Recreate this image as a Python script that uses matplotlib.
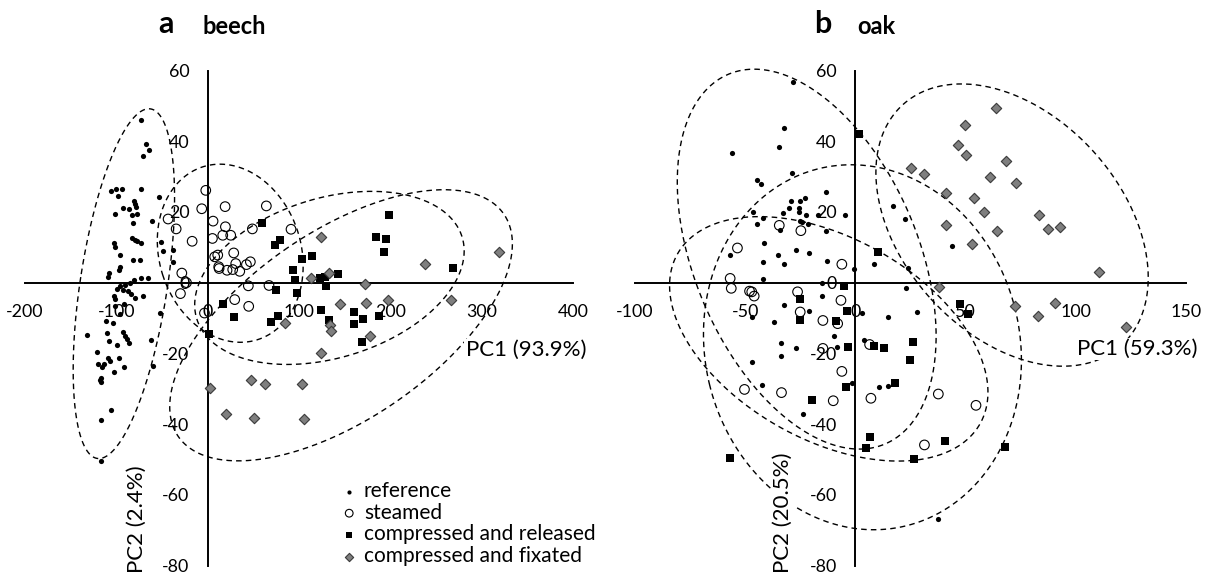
import numpy as np
import matplotlib
matplotlib.use("Agg")
import matplotlib.pyplot as plt

plt.rcParams['font.family'] = ['Lato', 'DejaVu Sans']
plt.rcParams['axes.unicode_minus'] = False

# ---------------- data (PC1, PC2) ----------------
beech_reference = [(-73.6,45.9),(-67.4,39.3),(-64.1,37.6),(-70.7,35.7),(-106.4,25.8),(-100.6,26.6),(-93.6,26.4),(-98.7,24.6),(-73.2,26.6),(-53.6,24.3),(-80.9,23.2),(-79.4,22.3),(-78.3,21.5),(-93.3,21.0),(-86.3,20.7),(-101.3,19.3),(-82.7,19.2),(-76.9,19.3),(-81.6,16.8),(-60.8,17.3),(-82.7,12.5),(-79.4,12.2),(-77.6,11.9),(-73.2,11.3),(-102.4,11.3),(-102.0,10.1),(-96.5,7.9),(-82.0,6.4),(-74.0,6.5),(-51.0,11.6),(-49.5,8.9),(-37.5,9.2),(-37.5,5.9),(-96.5,4.3),(-97.6,3.7),(-108.2,2.6),(-109.7,1.6),(-73.6,1.3),(-65.2,1.3),(-80.9,0.7),(-85.3,-0.1),(-91.1,-0.8),(-96.5,-0.9),(-99.1,-1.7),(-93.3,-2.0),(-87.1,-2.5),(-103.1,-3.9),(-101.6,-4.6),(-84.2,-3.2),(-79.1,-4.3),(-71.4,-3.8),(-101.0,-6.5),(-92.0,-6.0),(-96.0,-9.0),(-111.8,-10.9),(-103.5,-11.5),(-132.6,-14.7),(-110.8,-14.2),(-92.5,-14.0),(-91.1,-15.0),(-88.2,-15.9),(-86.7,-17.2),(-108.2,-16.6),(-99.8,-17.7),(-62.3,-16.2),(-52.5,-8.6),(-121.0,-19.7),(-109.3,-21.3),(-107.1,-22.3),(-97.6,-21.3),(-120.2,-23.1),(-115.5,-23.8),(-113.7,-22.9),(-91.5,-23.8),(-102.4,-25.4),(-59.4,-23.6),(-117.3,-26.9),(-116.6,-28.1),(-118.0,-27.5),(-106.4,-36.1),(-116.6,-38.8),(-117.3,-50.4)]
beech_steamed = [(-2.2,26.1),(-6.6,20.9),(19.0,21.5),(64.1,21.7),(-43.4,18.0),(-34.6,15.2),(5.8,17.4),(19.3,15.8),(16.4,13.4),(25.1,13.4),(48.8,15.2),(91.1,15.1),(-17.1,11.7),(5.1,12.5),(28.4,8.4),(7.6,7.3),(10.9,7.8),(12.0,4.5),(12.4,4.0),(21.1,3.5),(27.3,3.7),(35.0,3.2),(30.6,5.4),(42.3,5.1),(46.6,5.9),(-28.4,2.7),(-23.3,0.0),(-29.9,-3.1),(44.4,-0.9),(67.0,-0.8),(29.5,-4.8),(44.8,-6.7),(-3.6,-8.6)]
beech_released = [(59.4,17.0),(78.7,12.0),(73.9,10.6),(92.9,3.7),(95.8,0.7),(75.0,-2.2),(97.6,-2.9),(16.4,-6.0),(28.4,-9.8),(1.1,-14.5),(69.2,-11.2),(76.5,-9.3),(198.2,19.1),(183.7,12.9),(195.3,12.3),(193.1,8.8),(268.2,4.1),(103.5,6.8),(114.4,7.4),(123.2,1.3),(128.7,1.6),(142.5,2.5),(129.4,-1.0),(124.3,-7.6),(159.6,-8.4),(160.3,-11.7),(169.8,-10.3),(187.0,-9.3),(132.3,-10.7),(168.7,-16.9)]
beech_fixated = [(124.3,12.9),(237.2,5.2),(319.2,8.6),(113.0,1.3),(133.0,2.6),(171.6,-0.5),(145.0,-6.0),(173.5,-5.7),(197.1,-5.0),(266.7,-5.0),(84.9,-11.5),(133.4,-12.0),(134.8,-13.8),(177.1,-15.0),(124.3,-20.0),(2.9,-29.9),(47.7,-27.6),(63.0,-28.8),(103.2,-28.6),(19.7,-37.1),(51.0,-38.2),(105.0,-38.5)]

oak_reference = [(-28.3,56.7),(-32.4,43.8),(-34.5,38.5),(-55.8,36.6),(-28.9,31.1),(-44.4,29.1),(-42.6,27.9),(-13.5,25.7),(-25.3,23.0),(-22.7,23.8),(-29.4,23.0),(-30.3,21.0),(-25.7,21.1),(-25.6,20.1),(-22.3,19.1),(-25.0,17.5),(-24.1,17.2),(-21.4,16.7),(-32.9,19.7),(-41.7,18.3),(-44.8,16.6),(-34.2,14.9),(-17.1,19.2),(-13.2,14.6),(-4.5,19.1),(-46.5,19.9),(-41.5,11.1),(-57.1,7.9),(-35.1,7.8),(-32.4,5.4),(-26.7,9.2),(-20.9,8.5),(-42.1,5.8),(-13.0,6.1),(-41.8,1.1),(-0.8,3.8),(8.6,5.2),(-15.0,-0.2),(-32.4,-6.3),(-15.3,-3.8),(17.1,21.6),(22.7,17.9),(44.1,10.4),(23.8,4.1),(22.9,-1.4),(-46.7,-9.7),(-37.1,-11.1),(-20.9,-8.1),(-9.5,-15.0),(-8.2,-18.2),(-26.7,-18.5),(-33.9,-17.0),(-33.6,-20.8),(-47.0,-22.5),(-42.4,-28.9),(-23.9,-37.2),(-1.5,-28.4),(3.8,-16.1),(3.0,-8.5),(14.9,-9.7),(10.8,-29.6),(14.7,-29.3),(28.0,-8.2),(37.6,-66.9)]
oak_steamed = [(-53.5,9.8),(-34.5,16.2),(-24.7,14.7),(-6.1,5.2),(-56.8,1.2),(-56.3,-1.6),(-48.0,-2.4),(-47.0,-2.6),(-45.9,-3.8),(-26.2,-2.6),(-6.5,-5.0),(-25.0,-8.3),(-14.7,-10.7),(-8.0,-11.6),(-14.7,-18.6),(-6.1,-25.1),(6.5,-17.5),(-50.3,-30.2),(-33.5,-31.1),(-10.0,-33.4),(7.1,-32.7),(37.7,-31.5),(54.8,-34.7),(31.4,-45.9)]
oak_released = [(1.5,42.1),(10.3,8.6),(-5.0,-1.0),(-25.0,-4.5),(-3.8,-7.9),(-25.3,-10.7),(-8.6,-10.9),(-3.5,-18.3),(8.3,-17.8),(13.2,-18.6),(-4.2,-29.5),(18.2,-28.5),(-19.7,-33.3),(6.5,-43.7),(4.9,-46.7),(-56.8,-49.7),(26.2,-16.8),(25.0,-21.8),(40.9,-44.8),(26.8,-50.0),(67.9,-46.4),(47.4,-6.1),(51.2,-9.0)]
oak_fixated = [(63.9,49.5),(49.9,44.5),(46.7,39.0),(50.3,36.0),(68.3,34.4),(25.2,32.5),(31.2,30.8),(61.2,29.8),(73.0,28.1),(41.1,25.3),(53.8,24.0),(58.3,20.1),(83.5,19.0),(87.4,15.2),(93.0,15.8),(41.4,16.3),(64.4,14.6),(52.9,10.8),(110.8,3.0),(37.9,-1.2),(72.3,-6.6),(90.5,-5.7),(83.0,-9.3),(122.7,-12.6)]

series_labels = ["reference", "steamed", "compressed and released", "compressed and fixated"]

# traced outlines of the dashed group ellipses (data units)
beech_outlines = [
    [(-64.5,48.7),(-44.4,43.3),(-37.8,34.8),(-36.4,26.3),(-37.2,16.8),(-42.6,4.4),(-48.1,-7.9),(-53.6,-14.5),(-59,-23),(-73.6,-32.5),(-88.1,-41.1),(-106.3,-47.7),(-117.3,-49.3),(-135.5,-46.8),(-144.6,-40.1),(-145.7,-28.7),(-145.7,-14.5),(-140.2,0),(-130,13.9),(-117.3,26.3),(-102.7,37.6),(-86.3,45.2)],
    [(10.3,33.9),(-22.5,31.0),(-37.2,26.3),(-51.7,16.8),(-53.6,7.3),(-48.1,-0.3),(-29.8,-7.9),(-8.0,-12.7),(10.3,-15.5),(46.7,-15.9),(79.5,-13.0),(96.9,-6.5),(102.4,3.5),(99.1,14.0),(87.1,21.4),(57.6,29.1)],
    [(-21.1,-2.8),(-9.8,-0.3),(6.6,5.4),(28.4,10.1),(57.6,14.9),(83.1,20.6),(101.3,23.9),(163.3,26.7),(210.6,25.3),(250.7,20.6),(272.6,14.9),(278,9.2),(274,3.5),(265.2,-5.0),(235.7,-10.7),(199.7,-15.5),(163.3,-19.3),(126.4,-22.1),(101.3,-23.5),(64.9,-23.0),(35.7,-20.1),(-0.7,-14.5),(-22.5,-5.0)],
    [(-37.5,-26.9),(-40.8,-35.5),(-29.8,-44.0),(-0.3,-48.6),(28.1,-49.7),(101.3,-46.9),(163.3,-41.1),(235.7,-29.7),(287.1,-13.6),(309,-5.9),(320,0.7),(332.7,9.2),(330.8,16.9),(309,24.4),(265.2,27.0),(213.9,25.3),(145,17.7),(97.7,11.1),(64.9,5.4),(43.1,-0.3),(16.1,-5.6),(-8,-12.1),(-29.8,-20.6)],
]
oak_outlines = [
    [(-41.8,60.1),(-58.2,57.3),(-70.5,49.6),(-77.3,41.1),(-80.5,32.6),(-80.9,23.2),(-80.9,13.8),(-78.6,5.3),(-75.0,-2.4),(-62.9,-9.9),(-52.3,-19.4),(-40.1,-28.9),(-31.0,-35.5),(-22.0,-42.1),(-11.4,-47.8),(0,-51.2),(15.9,-47.2),(25,-41.3),(30.5,-33.6),(33.2,-24.2),(35,-13.7),(33.2,-0.4),(28.2,12.7),(21.8,24.1),(15.9,31.7),(10,36.6),(-0.9,45.4),(-17.3,54.5)],
    [(-84.1,-0.4),(-80.9,7.0),(-73.6,12.7),(-58.2,17.5),(-43.2,19.2),(-30.9,18.4),(-17.3,15.5),(-0.9,11.8),(20.5,5.3),(40.5,-4.3),(49.1,-10.0),(53.6,-19.4),(59.1,-28.8),(58.2,-36.4),(52.3,-43.0),(38.6,-48.7),(20.5,-51.2),(-0.9,-49.8),(-17.3,-47.0),(-30.9,-40.1),(-47.7,-33.6),(-65.9,-25.1),(-80.9,-14.6),(-85,-5.2)],
    [(-65.9,4.3),(-55.3,12.8),(-40.1,25.1),(-22.0,30.8),(-0.8,33.2),(20.5,31.7),(43.2,22.3),(61.4,9.9),(72.7,-8.0),(74.2,-19.4),(71.2,-38.4),(61.4,-52.6),(46.2,-63.0),(31.0,-66.8),(5.3,-69.1),(-20.5,-65.8),(-50.8,-49.7),(-64.4,-33.6),(-68.2,-14.6)],
    [(15.9,47.4),(25,51.6),(44.5,55.9),(65.9,53.9),(88.6,47.4),(106.8,38.3),(121.8,26.1),(130.9,12.7),(132.7,-0.4),(126.8,-11.7),(100,-23.7),(70.5,-20.3),(49.5,-14.6),(36.8,-7.2),(31.4,0.5),(21.8,6.2),(13.6,16.1),(10,31.7),(14.5,46.8)],
]

# ---------------- helpers ----------------
def fit_ellipse(x, y):
    D1 = np.vstack([x * x, x * y, y * y]).T
    D2 = np.vstack([x, y, np.ones_like(x)]).T
    S1 = D1.T @ D1
    S2 = D1.T @ D2
    S3 = D2.T @ D2
    T = -np.linalg.solve(S3, S2.T)
    M = S1 + S2 @ T
    C = np.array([[0, 0, 2], [0, -1, 0], [2, 0, 0]], float)
    M = np.linalg.solve(C, M)
    w, v = np.linalg.eig(M)
    v = np.real(v)
    cond = 4 * v[0] * v[2] - v[1] ** 2
    a1 = v[:, np.argmax(cond)]
    return np.concatenate([a1, T @ a1])


def conic_points(p, n=400):
    a, b, c, d, e, f = p
    A = np.array([[a, b / 2], [b / 2, c]])
    bv = np.array([d, e])
    x0 = -0.5 * np.linalg.solve(A, bv)
    F0 = f + 0.5 * bv @ x0
    lam, V = np.linalg.eigh(A)
    r = np.sqrt(-F0 / lam)
    t = np.linspace(0, 2 * np.pi, n)
    return x0 + (V @ np.vstack([r[0] * np.cos(t), r[1] * np.sin(t)])).T


def draw_outline(ax, pts):
    disp = ax.transData.transform(np.asarray(pts, float))
    m = disp.mean(0)
    s = disp.std()
    u = (disp - m) / s
    curve = conic_points(fit_ellipse(u[:, 0], u[:, 1])) * s + m
    cd = ax.transData.inverted().transform(curve)
    ax.plot(cd[:, 0], cd[:, 1], color='black', lw=1.0,
            linestyle=(0, (4, 3)), zorder=1, clip_on=False)


def style_axes(ax, xlim, xticks):
    ax.set_xlim(*xlim)
    ax.set_ylim(-80, 60)
    ax.set_xticks(xticks)
    ax.set_yticks(list(range(-80, 61, 20)))
    ax.spines['top'].set_visible(False)
    ax.spines['right'].set_visible(False)
    ax.spines['left'].set_position(('data', 0))
    ax.spines['bottom'].set_position(('data', 0))
    for s in ('left', 'bottom'):
        ax.spines[s].set_linewidth(1.4)
        ax.spines[s].set_zorder(2)
    ax.tick_params(axis='x', length=0, pad=15.5, labelsize=12.9)
    ax.tick_params(axis='y', length=0, pad=13.2, labelsize=12.9)
    ax.patch.set_visible(False)


def scatter_groups(ax, groups):
    styles = [
        dict(marker='o', s=14, c='black', linewidths=0),
        dict(marker='o', s=48, facecolors='none', edgecolors='black', linewidths=0.8),
        dict(marker='s', s=32, c='black', linewidths=0),
        dict(marker='D', s=28, facecolors='#7f7f7f', edgecolors='#3a3a3a', linewidths=0.8),
    ]
    handles = []
    for pts, st, lab in zip(groups, styles, series_labels):
        a = np.asarray(pts, float)
        handles.append(ax.scatter(a[:, 0], a[:, 1], zorder=3, clip_on=False, label=lab, **st))
    return handles

# ---------------- figure ----------------
W, H = 1213, 575
fig = plt.figure(figsize=(W / 100, H / 100), dpi=100)


def px_rect(x0, x1, ytop, ybot):
    return [x0 / W, 1 - ybot / H, (x1 - x0) / W, (ybot - ytop) / H]


axL = fig.add_axes(px_rect(25, 573.3, 70.5, 565.5))
axR = fig.add_axes(px_rect(635, 1185.7, 70.5, 565.5))
style_axes(axL, (-200, 400), list(range(-200, 401, 100)))
style_axes(axR, (-100, 150), list(range(-100, 151, 50)))

for pts in beech_outlines:
    draw_outline(axL, pts)
for pts in oak_outlines:
    draw_outline(axR, pts)

handles = scatter_groups(axL, [beech_reference, beech_steamed, beech_released, beech_fixated])
scatter_groups(axR, [oak_reference, oak_steamed, oak_released, oak_fixated])

fig.legend(handles, series_labels, loc='upper left',
           bbox_to_anchor=(344 / W, 1 - 481 / H), frameon=False, fontsize=15,
           handlelength=0.5, handletextpad=0.45, labelspacing=0.08,
           borderpad=0, borderaxespad=0, markerscale=0.8, scatterpoints=1)

# panel titles
fig.text(166 / W, 1 - 33 / H, 'a', fontsize=22, fontweight='bold', ha='center', va='baseline')
fig.text(203 / W, 1 - 34 / H, 'beech', fontsize=17, fontweight='bold', ha='left', va='baseline')
fig.text(823 / W, 1 - 33 / H, 'b', fontsize=22, fontweight='bold', ha='center', va='baseline')
fig.text(857 / W, 1 - 34 / H, 'oak', fontsize=17, fontweight='bold', ha='left', va='baseline')

# axis titles
box = dict(facecolor='white', edgecolor='none', pad=1)
fig.text(465.7 / W, 1 - 350 / H, 'PC1 (93.9%)', fontsize=16, ha='left', va='center', bbox=box)
fig.text(1077 / W, 1 - 349 / H, 'PC1 (59.3%)', fontsize=16, ha='left', va='center', bbox=box)
fig.text(136.7 / W, 2 / H, 'PC2 (2.4%)', fontsize=16, rotation=90, ha='center', va='bottom', bbox=box)
fig.text(783 / W, 2 / H, 'PC2 (20.5%)', fontsize=16, rotation=90, ha='center', va='bottom', bbox=box)

fig.savefig('out.png', dpi=100, facecolor='white')
